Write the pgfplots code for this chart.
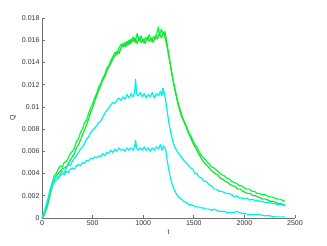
\documentclass[border=0pt]{standalone}
\usepackage{pgfplots}
\pgfplotsset{compat=1.18}
\usepackage{fontspec}
\setmainfont{Liberation Sans}
\definecolor{greenA}{RGB}{0,250,70}
\definecolor{greenB}{RGB}{30,225,40}
\definecolor{cyanA}{RGB}{0,240,235}
\definecolor{axgray}{RGB}{110,110,110}
\begin{document}
\begin{tikzpicture}
\begin{axis}[
  scale only axis, width=253pt, height=200pt,
  xmin=0, xmax=2500, ymin=0, ymax=0.018,
  axis x line*=bottom, axis y line*=left,
  axis line style={axgray, line width=0.6pt},
  tick style={axgray, line width=0.6pt}, tick align=inside,
  major tick length=3pt,
  xtick={0,500,1000,1500,2000,2500},
  ytick={0,0.002,0.004,0.006,0.008,0.01,0.012,0.014,0.016,0.018},
  yticklabels={0,0.002,0.004,0.006,0.008,0.01,0.012,0.014,0.016,0.018},
  scaled y ticks=false,
  /pgf/number format/assume math mode=true,
  /pgf/number format/1000 sep={},
  ticklabel style={font=\fontsize{7}{8}\selectfont, text=black!80},
  xticklabel style={yshift=1pt},
  yticklabel style={xshift=1pt},
  label style={font=\fontsize{7}{8}\selectfont, text=black!80},
  xlabel={t}, ylabel={Q},
  xlabel style={yshift=2pt},
  ylabel style={yshift=-1pt},
  every axis plot/.append style={line width=1.2pt, line join=round},
  clip=false,
]
% green, upper
\addplot[greenA] coordinates {
(0,0) (20,0.0003) (40,0.0008) (60,0.0015) (80,0.0024) (100,0.0031) (120,0.0038) (140,0.0040) (160,0.0044) (180,0.0047)
(200,0.0046) (220,0.0050) (240,0.0051) (260,0.0054) (280,0.0058) (300,0.0060) (320,0.0063) (340,0.0069) (360,0.0071) (380,0.0077)
(400,0.0080) (420,0.0086) (440,0.0088) (460,0.0094) (480,0.0099) (500,0.0103) (520,0.0108) (540,0.0112) (560,0.0118) (580,0.0121)
(600,0.0126) (620,0.0129) (640,0.0135) (660,0.0137) (680,0.0142) (700,0.0145) (720,0.0149) (740,0.0147) (760,0.0153) (780,0.0156)
(800,0.0154) (820,0.0158) (840,0.0155) (860,0.0160) (880,0.0157) (900,0.0163) (920,0.0158) (940,0.0166) (960,0.0159) (980,0.0164)
(1000,0.0158) (1020,0.0162) (1040,0.0160) (1060,0.0165) (1080,0.0159) (1100,0.0163) (1120,0.0161) (1140,0.0168) (1150,0.0172) (1160,0.0164)
(1180,0.0170) (1200,0.0165) (1215,0.0168) (1230,0.0160) (1250,0.0149) (1270,0.0138) (1290,0.0127) (1310,0.0118) (1330,0.0110) (1350,0.0102)
(1370,0.0096) (1390,0.0090) (1410,0.0086) (1430,0.0082) (1450,0.0077) (1470,0.0074) (1490,0.0070) (1510,0.0066) (1530,0.0064) (1550,0.0060)
(1575,0.0056) (1600,0.0054) (1625,0.0051) (1650,0.0049) (1675,0.0046) (1700,0.0045) (1725,0.0043) (1750,0.0041) (1775,0.0039) (1800,0.0038)
(1825,0.0036) (1850,0.0035) (1875,0.0033) (1900,0.0032) (1925,0.0031) (1950,0.0029) (1975,0.0029) (2000,0.0027) (2025,0.0026) (2050,0.0026)
(2075,0.0024) (2100,0.0024) (2125,0.0022) (2150,0.0022) (2175,0.0021) (2200,0.0021) (2225,0.0020) (2250,0.0019) (2275,0.0019) (2300,0.0018)
(2325,0.0017) (2350,0.0017) (2375,0.0016) (2400,0.0015)
};
% green, lower
\addplot[greenB] coordinates {
(0,0) (20,0.0002) (40,0.0007) (60,0.0013) (80,0.0021) (100,0.0028) (120,0.0034) (140,0.0038) (160,0.0040) (180,0.0042)
(200,0.0044) (220,0.0045) (240,0.0046) (260,0.0049) (280,0.0052) (300,0.0055) (320,0.0058) (340,0.0063) (360,0.0066) (380,0.0070)
(400,0.0075) (420,0.0079) (440,0.0084) (460,0.0089) (480,0.0095) (500,0.0099) (520,0.0105) (540,0.0110) (560,0.0115) (580,0.0119)
(600,0.0124) (620,0.0127) (640,0.0132) (660,0.0136) (680,0.0139) (700,0.0143) (720,0.0146) (740,0.0150) (760,0.0148) (780,0.0153)
(800,0.0157) (820,0.0154) (840,0.0159) (860,0.0156) (880,0.0161) (900,0.0159) (920,0.0162) (940,0.0157) (960,0.0163) (980,0.0158)
(1000,0.0161) (1020,0.0157) (1040,0.0163) (1060,0.0159) (1080,0.0162) (1100,0.0158) (1120,0.0164) (1140,0.0161) (1160,0.0166) (1180,0.0162)
(1200,0.0167) (1220,0.0161) (1240,0.0152) (1260,0.0142) (1280,0.0131) (1300,0.0121) (1320,0.0112) (1340,0.0104) (1360,0.0097) (1380,0.0091)
(1400,0.0087) (1420,0.0083) (1440,0.0078) (1460,0.0074) (1480,0.0070) (1500,0.0066) (1520,0.0063) (1540,0.0059) (1560,0.0056) (1585,0.0052)
(1610,0.0049) (1635,0.0047) (1660,0.0044) (1685,0.0042) (1710,0.0040) (1735,0.0039) (1760,0.0036) (1785,0.0035) (1810,0.0033) (1835,0.0032)
(1860,0.0030) (1885,0.0029) (1910,0.0028) (1935,0.0026) (1960,0.0026) (1985,0.0024) (2010,0.0023) (2035,0.0022) (2060,0.0022) (2085,0.0020)
(2110,0.0020) (2135,0.0019) (2160,0.0018) (2185,0.0017) (2210,0.0017) (2235,0.0016) (2260,0.0015) (2285,0.0015) (2310,0.0014) (2335,0.0013)
(2360,0.0013) (2385,0.0012) (2400,0.0012)
};
% cyan, upper
\addplot[cyanA] coordinates {
(0,0) (20,0.0005) (40,0.0011) (60,0.0018) (80,0.0026) (100,0.0031) (120,0.0034) (140,0.0037) (160,0.0036) (180,0.0040)
(200,0.0042) (220,0.0041) (240,0.0045) (260,0.0048) (280,0.0047) (300,0.0051) (320,0.0054) (340,0.0056) (360,0.0059) (380,0.0062)
(400,0.0064) (420,0.0067) (440,0.0071) (460,0.0073) (480,0.0077) (500,0.0079) (520,0.0081) (540,0.0083) (560,0.0086) (580,0.0087)
(600,0.0091) (620,0.0094) (640,0.0097) (660,0.0099) (680,0.0102) (700,0.0104) (720,0.0103) (740,0.0106) (760,0.0108) (780,0.0106)
(800,0.0109) (820,0.0107) (840,0.0111) (860,0.0108) (880,0.0112) (900,0.0109) (915,0.0113) (925,0.0125) (935,0.0112) (950,0.0110)
(970,0.0113) (990,0.0109) (1010,0.0112) (1030,0.0108) (1050,0.0111) (1070,0.0109) (1090,0.0113) (1110,0.0108) (1130,0.0112) (1150,0.0110)
(1170,0.0114) (1185,0.0110) (1195,0.0117) (1210,0.0112) (1225,0.0104) (1240,0.0094) (1255,0.0085) (1270,0.0078) (1290,0.0070) (1310,0.0064)
(1330,0.0061) (1350,0.0058) (1370,0.0056) (1390,0.0053) (1410,0.0051) (1430,0.0049) (1450,0.0047) (1470,0.0045) (1490,0.0044) (1510,0.0040)
(1530,0.0040) (1550,0.0037) (1575,0.0036) (1600,0.0033) (1625,0.0033) (1650,0.0030) (1675,0.0029) (1700,0.0026) (1725,0.0026) (1750,0.0024)
(1775,0.0024) (1800,0.0023) (1825,0.0022) (1850,0.0022) (1875,0.0021) (1900,0.0019) (1925,0.0020) (1950,0.0018) (1975,0.0018) (2000,0.0017)
(2025,0.0018) (2050,0.0016) (2075,0.0017) (2100,0.0016) (2125,0.0016) (2150,0.0015) (2175,0.0015) (2200,0.0014) (2225,0.0014) (2250,0.0014)
(2275,0.0013) (2300,0.0013) (2325,0.0012) (2350,0.0012) (2375,0.0012) (2400,0.0011)
};
% cyan, lower
\addplot[cyanA] coordinates {
(0,0) (20,0.0004) (40,0.0010) (60,0.0017) (80,0.0024) (100,0.0029) (120,0.0032) (140,0.0034) (160,0.0036) (180,0.0038)
(200,0.0040) (220,0.0039) (240,0.0042) (260,0.0041) (280,0.0044) (300,0.0045) (320,0.0044) (340,0.0047) (360,0.0048) (380,0.0047)
(400,0.0050) (420,0.0049) (440,0.0052) (460,0.0051) (480,0.0054) (500,0.0053) (520,0.0055) (540,0.0054) (560,0.0056) (580,0.0055)
(600,0.0058) (620,0.0056) (640,0.0059) (660,0.0058) (680,0.0061) (700,0.0059) (720,0.0062) (740,0.0060) (760,0.0063) (780,0.0061)
(800,0.0062) (820,0.0060) (840,0.0063) (860,0.0061) (880,0.0063) (900,0.0061) (915,0.0064) (925,0.0070) (935,0.0063) (950,0.0061)
(970,0.0063) (990,0.0061) (1010,0.0064) (1030,0.0061) (1050,0.0063) (1070,0.0060) (1090,0.0063) (1110,0.0061) (1130,0.0064) (1150,0.0062)
(1170,0.0066) (1185,0.0061) (1200,0.0065) (1215,0.0063) (1225,0.0060) (1235,0.0053) (1250,0.0045) (1265,0.0038) (1280,0.0032) (1300,0.0027)
(1320,0.0023) (1340,0.0020) (1360,0.0018) (1380,0.0017) (1400,0.0015) (1425,0.0014) (1450,0.0012) (1475,0.0012) (1500,0.0011) (1525,0.0010)
(1550,0.0010) (1575,0.0009) (1600,0.0009) (1625,0.0008) (1650,0.0008) (1675,0.0007) (1700,0.0008) (1725,0.0007) (1750,0.0006) (1775,0.0006)
(1800,0.0006) (1825,0.0005) (1850,0.0005) (1875,0.0005) (1900,0.0005) (1925,0.0006) (1950,0.0005) (1975,0.0004) (2000,0.0004) (2050,0.0003)
(2100,0.0003) (2150,0.0003) (2200,0.0002) (2250,0.0002) (2300,0.0001) (2350,0.0001) (2400,0.0001)
};
\end{axis}
\pgfresetboundingbox
\path ([shift={(-42pt,-28pt)}]current axis.south west) rectangle ([shift={(32pt,18pt)}]current axis.north east);
\end{tikzpicture}
\end{document}
